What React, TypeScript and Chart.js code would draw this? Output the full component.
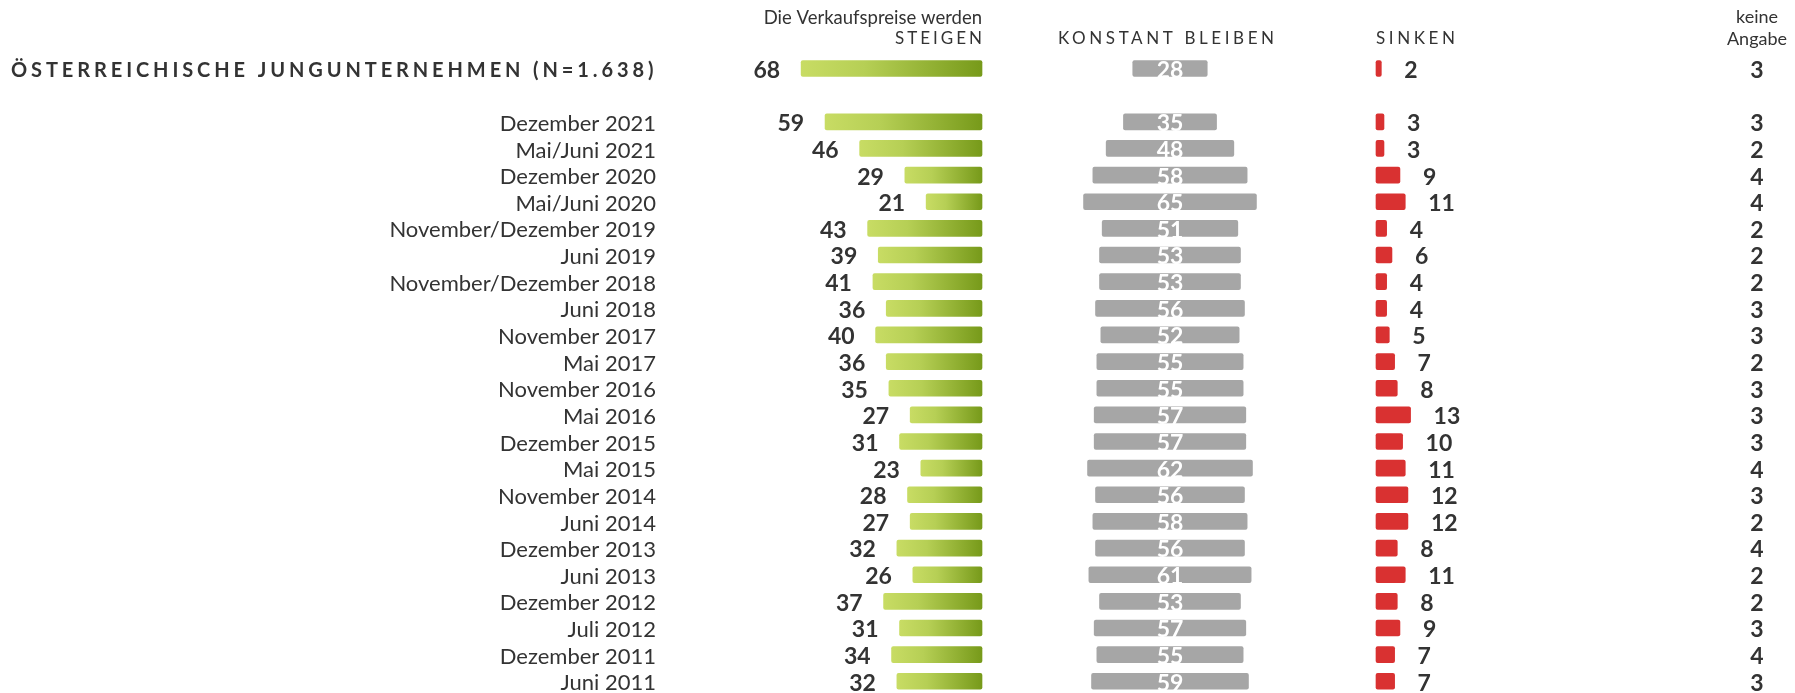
import React, { useEffect, useRef } from "react";
import { Chart, registerables } from "chart.js";

Chart.register(...registerables);

const totalLabel = "ÖSTERREICHISCHE JUNGUNTERNEHMEN (N=1.638)";
const totalSteigen = 68;
const totalKonstant = 28;
const totalSinken = 2;
const totalKeine = 3;

const periods = [
  "Dezember 2021", "Mai/Juni 2021", "Dezember 2020", "Mai/Juni 2020",
  "November/Dezember 2019", "Juni 2019", "November/Dezember 2018", "Juni 2018",
  "November 2017", "Mai 2017", "November 2016", "Mai 2016", "Dezember 2015",
  "Mai 2015", "November 2014", "Juni 2014", "Dezember 2013", "Juni 2013",
  "Dezember 2012", "Juli 2012", "Dezember 2011", "Juni 2011",
];
const steigen = [59, 46, 29, 21, 43, 39, 41, 36, 40, 36, 35, 27, 31, 23, 28, 27, 32, 26, 37, 31, 34, 32];
const konstant = [35, 48, 58, 65, 51, 53, 53, 56, 52, 55, 55, 57, 57, 62, 56, 58, 56, 61, 53, 57, 55, 59];
const sinken = [3, 3, 9, 11, 4, 6, 4, 4, 5, 7, 8, 13, 10, 11, 12, 12, 8, 11, 8, 9, 7, 7];
const keineAngabe = [3, 2, 4, 4, 2, 2, 2, 3, 3, 2, 3, 3, 3, 4, 3, 2, 4, 2, 2, 3, 4, 3];

const headerSteigen1 = "Die Verkaufspreise werden";
const headerSteigen2 = "STEIGEN";
const headerKonstant = "KONSTANT BLEIBEN";
const headerSinken = "SINKEN";
const headerKeine1 = "keine";
const headerKeine2 = "Angabe";

const rowLabels = [totalLabel, "", ...periods];
const sData = [totalSteigen, null, ...steigen];
const kData = [totalKonstant, null, ...konstant];
const rData = [totalSinken, null, ...sinken];
const nData = [totalKeine, null, ...keineAngabe];

const W = 1795;
const H = 700;
const PX_PER_UNIT = 2.66;
const span = W / PX_PER_UNIT;
function range(zeroPx: number) {
  const min = -zeroPx / PX_PER_UNIT;
  return { min, max: min + span };
}
const STEIGEN_ZERO = 982;
const KONSTANT_ZERO = 1170;
const SINKEN_ZERO = 1376;
const KEINE_X = 1757;
const LABEL_RIGHT = 656;
const TEXT_DY = 2;

const TEXT = "#333333";
const GREEN_LIGHT = "#c8dc64";
const GREEN_MID = "#b6cf55";
const GREEN_DARK = "#779a1a";
const GRAY = "#a6a6a6";
const RED = "#d93131";

function txt(
  c: CanvasRenderingContext2D, s: string, x: number, y: number,
  align: CanvasTextAlign, font: string, color: string, spacing = 0
) {
  c.save();
  c.font = font;
  c.fillStyle = color;
  c.textBaseline = "middle";
  c.textAlign = align;
  (c as any).letterSpacing = spacing + "px";
  let xx = x;
  if (spacing && align === "right") xx = x + spacing;
  if (spacing && align === "center") xx = x + spacing / 2;
  c.fillText(s, xx, y);
  c.restore();
}

const labelPlugin = {
  id: "labelPlugin",
  afterDatasetsDraw(chart: any) {
    const c = chart.ctx as CanvasRenderingContext2D;
    const yS = chart.scales.y;
    // headers
    txt(c, headerSteigen1, STEIGEN_ZERO, 18, "right", "18.5px Lato", TEXT);
    txt(c, headerSteigen2, STEIGEN_ZERO, 39, "right", "17px Lato", TEXT, 3);
    txt(c, headerKonstant, KONSTANT_ZERO - 4, 39, "center", "17px Lato", TEXT, 3.6);
    txt(c, headerSinken, SINKEN_ZERO, 39, "left", "17px Lato", TEXT, 3.6);
    txt(c, headerKeine1, KEINE_X, 17, "center", "18px Lato", TEXT);
    txt(c, headerKeine2, KEINE_X, 39, "center", "18px Lato", TEXT);

    rowLabels.forEach((lab, i) => {
      if (!lab) return;
      const y = yS.getPixelForValue(i) + TEXT_DY;
      if (i === 0) {
        txt(c, lab, 11, y, "left", "bold 20px Lato", TEXT, 3.9);
      } else {
        txt(c, lab, LABEL_RIGHT, y, "right", "22px Lato", TEXT);
      }
    });

    const mS = chart.getDatasetMeta(0);
    const mK = chart.getDatasetMeta(1);
    const mR = chart.getDatasetMeta(2);
    const vf = "bold 23px Lato";
    sData.forEach((v, i) => {
      if (v == null) return;
      const el = mS.data[i];
      const left = Math.min(el.x, el.base);
      txt(c, String(v), left - 21, el.y + TEXT_DY, "right", vf, TEXT);
    });
    kData.forEach((v, i) => {
      if (v == null) return;
      const el = mK.data[i];
      txt(c, String(v), (el.x + el.base) / 2, el.y + TEXT_DY, "center", vf, "#ffffff");
    });
    rData.forEach((v, i) => {
      if (v == null) return;
      const el = mR.data[i];
      const right = Math.max(el.x, el.base);
      txt(c, String(v), right + 23, el.y + TEXT_DY, "left", vf, TEXT);
    });
    nData.forEach((v, i) => {
      if (v == null) return;
      txt(c, String(v), KEINE_X, yS.getPixelForValue(i) + TEXT_DY, "center", vf, TEXT);
    });
  },
};

export default function App() {
  const ref = useRef<HTMLCanvasElement | null>(null);
  useEffect(() => {
    if (!ref.current) return;
    const greenFill = (ctx: any) => {
      const chart = ctx.chart;
      const v = ctx.raw;
      if (!chart.chartArea || v == null || !chart.scales.xS) return GREEN_LIGHT;
      const sc = chart.scales.xS;
      const x0 = sc.getPixelForValue(v);
      const x1 = sc.getPixelForValue(0);
      const g = chart.ctx.createLinearGradient(x0, 0, x1, 0);
      g.addColorStop(0, GREEN_LIGHT);
      g.addColorStop(0.35, GREEN_MID);
      g.addColorStop(1, GREEN_DARK);
      return g;
    };
    const chart = new Chart(ref.current, {
      type: "bar",
      data: {
        labels: rowLabels,
        datasets: [
          { label: "steigen", data: sData as any, xAxisID: "xS", backgroundColor: greenFill as any },
          { label: "konstant", data: kData.map((v) => (v == null ? null : [-v / 2, v / 2])) as any, xAxisID: "xK", backgroundColor: GRAY },
          { label: "sinken", data: rData as any, xAxisID: "xR", backgroundColor: RED },
        ],
      },
      options: {
        indexAxis: "y",
        animation: false,
        responsive: false,
        events: [],
        layout: { padding: { top: 55.2, bottom: H - 694.6, left: 0, right: 0 } },
        datasets: { bar: { barThickness: 16, borderRadius: 2, borderSkipped: false, grouped: false } } as any,
        plugins: { legend: { display: false }, tooltip: { enabled: false } },
        scales: {
          y: { type: "category", display: false, offset: true, grid: { display: false } },
          xS: { type: "linear", axis: "x", display: false, reverse: true, ...range(W - STEIGEN_ZERO) } as any,
          xK: { type: "linear", axis: "x", display: false, ...range(KONSTANT_ZERO) } as any,
          xR: { type: "linear", axis: "x", display: false, ...range(SINKEN_ZERO) } as any,
        },
      },
      plugins: [labelPlugin],
    });
    return () => chart.destroy();
  }, []);
  return (
    <div style={{ position: "fixed", left: 0, top: 0, width: W, height: 693, overflow: "hidden", background: "#fff" }}>
      <canvas ref={ref} width={W} height={H} style={{ display: "block" }} />
    </div>
  );
}
